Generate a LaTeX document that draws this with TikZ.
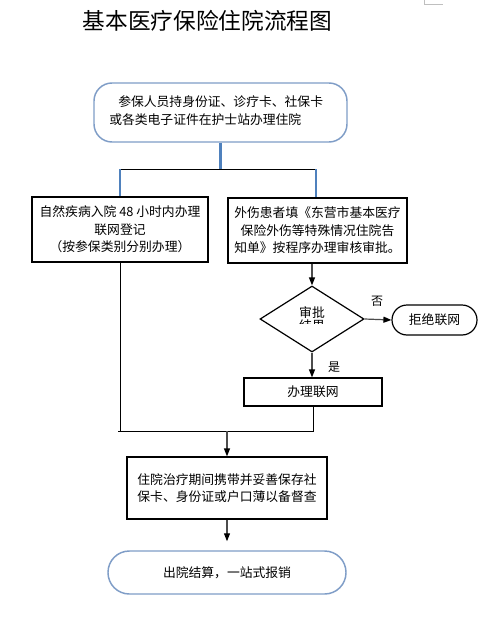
\documentclass[tikz,border=0pt]{standalone}
\usepackage{fontspec}
\setmainfont{Noto Sans CJK SC}
\usetikzlibrary{shapes.geometric,arrows.meta}
\definecolor{bluel}{RGB}{79,129,189}
\definecolor{blueb}{RGB}{127,157,199}
\begin{document}
\begin{tikzpicture}[x=0.75pt,y=-0.75pt,
  every node/.style={font=\fontsize{9.6pt}{13.1pt}\selectfont},
  box/.style={draw=black,line width=0.9pt,inner sep=0pt,align=center},
  rbox/.style={draw=blueb,line width=1.1pt,inner sep=0pt,align=center},
  bl/.style={draw=bluel,line width=1.6pt},
  cn/.style={draw=black,line width=0.75pt},
  ar/.style={draw=black!70,line width=0.9pt,-{Triangle[length=6pt,width=4.5pt,color=black]}},
  lbl/.style={font=\fontsize{9pt}{10pt}\selectfont,inner sep=0pt}]
\useasboundingbox (0,0) rectangle (501,635);
\fill[white] (0,0) rectangle (501,635);
\draw[black!25,line width=0.75pt] (424,0) -- (424,5) -- (443,5);

\node[inner sep=0pt,font=\fontsize{17pt}{20pt}\selectfont] (title) at (207.5,21) {基本医疗保险住院流程图};

\node[rbox,rounded corners=13.5pt,minimum width=189.75pt,minimum height=44.25pt] (top) at (220.5,112.5) {};
\node[inner sep=0pt,anchor=west,align=left] (toptext) at (109,110.5) {\hspace{6.75pt}参保人员持身份证、诊疗卡、社保卡\\或各类电子证件在护士站办理住院};

\node[box,minimum width=132pt,minimum height=48.75pt] (left) at (120,229.5) {自然疾病入院 48 小时内办理\\联网登记\\（按参保类别分别办理）};
\node[box,minimum width=134.25pt,minimum height=48.75pt] (right) at (317.5,230.5) {外伤患者填《东营市基本医疗\\保险外伤等特殊情况住院告\\知单》按程序办理审核审批。};

\node[draw=black,line width=0.9pt,shape=diamond,inner sep=0pt,minimum width=78pt,minimum height=49.5pt] (dia) at (312,319) {};
\node[inner sep=0pt] (dt1) at (312,312.5) {审批};
\begin{scope}
\clip (285,317) rectangle (340,323);
\node[inner sep=0pt] (dt2) at (312,325.5) {结果};
\end{scope}

\node[box,rounded corners=11.25pt,minimum width=63.75pt,minimum height=22.5pt] (rej) at (434.5,320) {拒绝联网};
\node[box,minimum width=103.5pt,minimum height=21pt] (wl) at (313,392) {办理联网};
\node[box,align=left,minimum width=150pt,minimum height=46.5pt] (stay) at (227,488) {住院治疗期间携带并妥善保存社\\保卡、身份证或户口薄以备督查};
\node[rbox,rounded corners=16pt,minimum width=178.5pt,minimum height=32.25pt] (out) at (227,572.5) {出院结算，一站式报销};

\node[lbl] (no) at (377,301) {否};
\node[lbl] (yes) at (334,367) {是};

\coordinate (jt) at (220.5,169);
\coordinate (jl) at (120,169);
\coordinate (jr) at (316,169);
\coordinate (bl1) at (118,431);
\coordinate (bm) at (227,431);

\draw[bl] (top.south) -- (jt);
\draw[cn] (jl) -- (jr);
\draw[bl] (jl) -- (left.north);
\draw[bl] (jr) -- (jr |- right.north);

\draw[ar] (dia.north |- right.south) -- (dia.north);
\draw[ar] (dia.east) -- (rej.west);
\draw[ar] (dia.south) -- (dia.south |- wl.north);

\draw[cn] (left.south) -- (left.south |- bl1);
\draw[cn] (bl1) -- ([xshift=0.75pt]wl.south |- bl1);
\draw[cn] (wl.south) -- (wl.south |- bl1);

\draw[ar] (bm) -- (stay.north);
\draw[ar,shorten >=6.75pt] (stay.south) -- (out.north);
\end{tikzpicture}
\end{document}
